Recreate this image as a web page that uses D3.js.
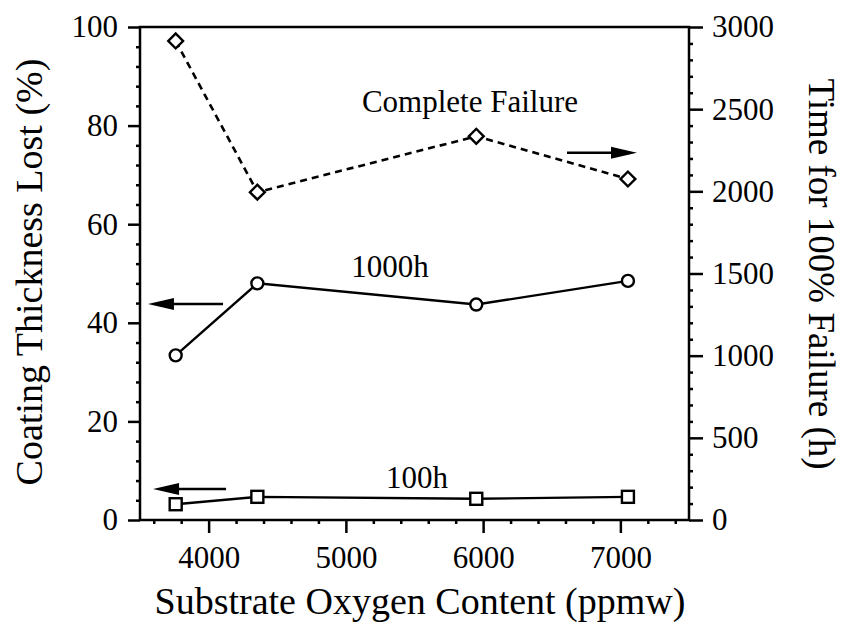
<!DOCTYPE html>
<html>
<head>
<meta charset="utf-8">
<script src="https://cdn.jsdelivr.net/npm/d3@7/dist/d3.min.js"></script>
<style>
  html, body { margin: 0; padding: 0; background: #fff; }
  svg { display: block; }
  text { font-family: "Liberation Serif", "Times New Roman", serif; fill: #000; }
</style>
</head>
<body>
<svg id="chart" width="842" height="625"></svg>
<script>
// ---- Data ----
const oxygen      = [3760, 4355, 5950, 7055];      // ppmw
const thick100h   = [3.2, 4.7, 4.3, 4.7];          // % (left axis)
const thick1000h  = [33.4, 48.0, 43.7, 48.5];      // % (left axis)
const failureTime = [2915, 1995, 2335, 2075];      // h (right axis)

const xTicks      = [4000, 5000, 6000, 7000];
const xMinorTicks = [3600, 3800, 4200, 4400, 4600, 4800, 5200, 5400, 5600, 5800, 6200, 6400, 6600, 6800, 7200, 7400];
const yLeftTicks  = [0, 20, 40, 60, 80, 100];
const yRightTicks = [0, 500, 1000, 1500, 2000, 2500, 3000];

const xTitle      = "Substrate Oxygen Content (ppmw)";
const yLeftTitle  = "Coating Thickness Lost (%)";
const yRightTitle = "Time for 100% Failure (h)";

// annotations: label text and positions in data units
const labels = [
  { text: "Complete Failure", x: 5904, y: 82.8 },
  { text: "1000h",            x: 5322, y: 49.3 },
  { text: "100h",             x: 5518, y: 6.5 }
];
// arrows: from (x1) to (x2) at y, axis which scale to use
const arrows = [
  { x1: 6611, x2: 7121, y: 2235, axis: "right" },
  { x1: 4105, x2: 3558, y: 43.8, axis: "left" },
  { x1: 4127, x2: 3595, y: 6.3,  axis: "left" }
];

// ---- Layout ----
const L = 140, R = 689, T = 27, B = 520;
const svg = d3.select("#chart");

const x  = d3.scaleLinear().domain([3500, 7500]).range([L, R]);
const yL = d3.scaleLinear().domain([0, 100]).range([B, T]);
const yR = d3.scaleLinear().domain([0, 3000]).range([B, T]);

const tickFont = 31;

function styleAxis(g, fontSize) {
  g.select(".domain").remove();
  g.selectAll(".tick line").attr("stroke", "#000").attr("stroke-width", 2.5);
  g.selectAll(".tick text").attr("font-size", fontSize).attr("fill", "#000")
    .attr("font-family", '"Liberation Serif", "Times New Roman", serif');
}

// Major axes
const gxMaj = svg.append("g").attr("transform", `translate(0,${B})`)
  .call(d3.axisBottom(x).tickValues(xTicks).tickSize(13).tickPadding(13).tickFormat(d3.format("d")));
styleAxis(gxMaj, tickFont);

const gyLMaj = svg.append("g").attr("transform", `translate(${L},0)`)
  .call(d3.axisLeft(yL).tickValues(yLeftTicks).tickSize(12).tickPadding(10).tickFormat(d3.format("d")));
styleAxis(gyLMaj, tickFont);

const gyRMaj = svg.append("g").attr("transform", `translate(${R},0)`)
  .call(d3.axisRight(yR).tickValues(yRightTicks).tickSize(14).tickPadding(9).tickFormat(d3.format("d")));
styleAxis(gyRMaj, tickFont);

// Minor axes
const yLMinor = d3.range(0, 101, 4).filter(v => v % 20 !== 0);
const yRMinor = d3.range(0, 3001, 100).filter(v => v % 500 !== 0);

const gxMin = svg.append("g").attr("transform", `translate(0,${B})`)
  .call(d3.axisBottom(x).tickValues(xMinorTicks).tickSize(4).tickFormat(""));
styleAxis(gxMin, tickFont);
const gyLMin = svg.append("g").attr("transform", `translate(${L},0)`)
  .call(d3.axisLeft(yL).tickValues(yLMinor).tickSize(4).tickFormat(""));
styleAxis(gyLMin, tickFont);
const gyRMin = svg.append("g").attr("transform", `translate(${R},0)`)
  .call(d3.axisRight(yR).tickValues(yRMinor).tickSize(4).tickFormat(""));
styleAxis(gyRMin, tickFont);

// Frame
svg.append("rect")
  .attr("x", L).attr("y", T).attr("width", R - L).attr("height", B - T)
  .attr("fill", "none").attr("stroke", "#000").attr("stroke-width", 2.5);

// Lines
const pts100  = oxygen.map((o, i) => [x(o), yL(thick100h[i])]);
const pts1000 = oxygen.map((o, i) => [x(o), yL(thick1000h[i])]);
const ptsFail = oxygen.map((o, i) => [x(o), yR(failureTime[i])]);
const line = d3.line();

svg.append("path").attr("d", line(pts100)).attr("fill", "none")
  .attr("stroke", "#000").attr("stroke-width", 2.4);
svg.append("path").attr("d", line(pts1000)).attr("fill", "none")
  .attr("stroke", "#000").attr("stroke-width", 2.4);
svg.append("path").attr("d", line(ptsFail)).attr("fill", "none")
  .attr("stroke", "#000").attr("stroke-width", 2.6).attr("stroke-dasharray", "7,5");

// Markers
svg.append("g").selectAll("rect").data(pts100).join("rect")
  .attr("x", d => d[0] - 6).attr("y", d => d[1] - 6).attr("width", 12).attr("height", 12)
  .attr("fill", "#fff").attr("stroke", "#000").attr("stroke-width", 2.4);
svg.append("g").selectAll("circle").data(pts1000).join("circle")
  .attr("cx", d => d[0]).attr("cy", d => d[1]).attr("r", 6)
  .attr("fill", "#fff").attr("stroke", "#000").attr("stroke-width", 2.4);
const dia = d3.symbol().type(d3.symbolSquare).size(110);
svg.append("g").selectAll("path").data(ptsFail).join("path")
  .attr("d", dia)
  .attr("transform", d => `translate(${d[0]},${d[1]}) rotate(45)`)
  .attr("fill", "#fff").attr("stroke", "#000").attr("stroke-width", 2.4);

// Arrows
arrows.forEach(a => {
  const yy = a.axis === "right" ? yR(a.y) : yL(a.y);
  const x1 = x(a.x1), x2 = x(a.x2);
  const dir = Math.sign(x2 - x1);
  const headLen = 26, headHalf = 6;
  svg.append("line").attr("x1", x1).attr("y1", yy).attr("x2", x2 - dir * headLen * 0.8).attr("y2", yy)
    .attr("stroke", "#000").attr("stroke-width", 2.4);
  svg.append("path")
    .attr("d", `M${x2},${yy} L${x2 - dir * headLen},${yy - headHalf} L${x2 - dir * headLen},${yy + headHalf} Z`)
    .attr("fill", "#000");
});

// Labels
svg.append("g").selectAll("text").data(labels).join("text")
  .attr("x", d => x(d.x)).attr("y", d => yL(d.y))
  .attr("text-anchor", "middle").attr("font-size", 31)
  .text(d => d.text);

// Axis titles
svg.append("text").attr("x", 420).attr("y", 614)
  .attr("text-anchor", "middle").attr("font-size", 38).text(xTitle);
svg.append("text").attr("transform", `translate(42,272) rotate(-90)`)
  .attr("text-anchor", "middle").attr("font-size", 38).text(yLeftTitle);
svg.append("text").attr("transform", `translate(809,274) rotate(90)`)
  .attr("text-anchor", "middle").attr("font-size", 37).text(yRightTitle);
</script>
</body>
</html>
